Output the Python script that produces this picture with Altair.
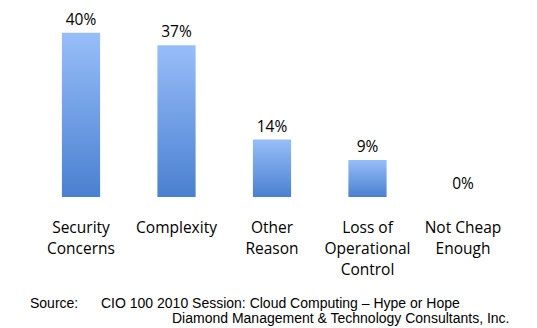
import altair as alt
import pandas as pd

categories = ["Security|Concerns", "Complexity", "Other|Reason", "Loss of|Operational|Control", "Not Cheap|Enough"]
values = [40, 37, 14, 9, 0]
value_labels = ["40%", "37%", "14%", "9%", "0%"]
source_lines = ["Source:", "CIO 100 2010 Session: Cloud Computing \u2013 Hype or Hope",
                "Diamond Management & Technology Consultants, Inc."]

df = pd.DataFrame({"cat": categories, "value": values, "label": value_labels})

FONT = "Open Sans"

x = alt.X("cat:N", sort=categories, title=None,
          scale=alt.Scale(range=[33.25, 510.75], paddingInner=0.6, paddingOuter=0.3),
          axis=alt.Axis(domain=False, ticks=False, labelAngle=0, labelFont=FONT,
                        labelFontSize=15.5, labelColor="#000000", labelLineHeight=21,
                        labelPadding=23, labelBaseline="top",
                        labelExpr="split(datum.label, '|')"))
y = alt.Y("value:Q", scale=alt.Scale(domain=[0, 48], nice=False), axis=None)

grad = alt.Gradient(gradient="linear", x1=0, x2=0, y1=0, y2=1,
                    stops=[alt.GradientStop(color="#97BEF8", offset=0),
                           alt.GradientStop(color="#4A80D1", offset=1)])

bars = alt.Chart(df).mark_bar(color=grad).encode(x=x, y=y)
labels = alt.Chart(df).mark_text(font=FONT, fontSize=15.5, dy=-8, baseline="alphabetic",
                                 color="#000000").encode(x=x, y=y, text="label:N")

def src_text(t, px, py):
    return alt.Chart(pd.DataFrame({"t": [t]})).mark_text(
        font="Liberation Sans", fontSize=14, align="left", baseline="alphabetic", color="#000000"
    ).encode(x=alt.value(px), y=alt.value(py), text="t:N")

s1 = src_text(source_lines[0], 30, 308)
s2 = src_text(source_lines[1], 101, 308)
s3 = src_text(source_lines[2], 172, 322.5)

chart = alt.layer(bars, labels, s1, s2, s3).properties(
    width=537, height=197, autosize=alt.AutoSizeParams(type="none"),
    padding={"left": 0, "top": 0, "right": 0, "bottom": 131}, background="white"
).configure_view(stroke=None)

chart.save("out.html", embed_options={"renderer": "svg", "actions": False})
